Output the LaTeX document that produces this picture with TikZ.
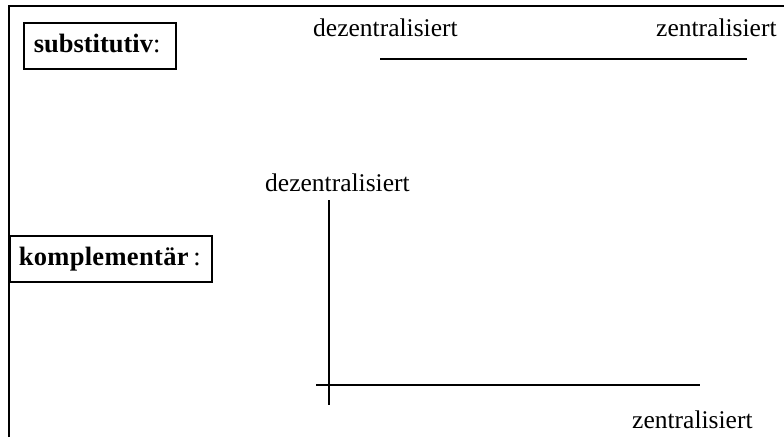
\documentclass[tikz,border=0pt]{standalone}
\usepackage{fontspec}
\setmainfont{Liberation Serif}
\begin{document}
\begin{tikzpicture}[x=1pt,y=-1pt,
  lbl/.style={font=\fontsize{25.5}{30}\selectfont, inner sep=0pt, anchor=base west},
  kindbox/.style={draw, line width=1.5pt, font=\fontsize{26.5}{30}\selectfont,
    minimum height=46pt, inner ysep=0pt, inner xsep=0pt, anchor=north west,
    text height=19pt, text depth=6pt, align=left},
  axis/.style={line width=1.5pt}]
  \useasboundingbox (0,0) rectangle (784,437);
  % outer frame: top and left edges only
  \draw[line width=2.2pt] (9,437) -- (9,6) -- (784,6);
  % category labels
  \node[kindbox, minimum width=152pt, text width=152pt] (subst) at (23,22)
    {\hspace*{10pt}\textbf{substitutiv}:};
  \node[kindbox, minimum width=202pt, text width=202pt] (kompl) at (9,235)
    {\hspace*{9pt}{\addfontfeatures{LetterSpace=1.2}\textbf{komplementär}}\,:};
  % substitutive case: one scale
  \node[lbl] (dz1) at (313,36) {dezentralisiert};
  \node[lbl] (z1) at (656,36) {zentralisiert};
  \coordinate (s0) at (380,59);
  \coordinate (s1) at (747,59);
  \draw[axis] (s0) -- (s1);
  % complementary case: two axes
  \node[lbl] (dz2) at (265,191) {dezentralisiert};
  \node[lbl] (z2) at (632,428) {zentralisiert};
  \coordinate (vtop) at (329,200);
  \coordinate (vbot) at (329,405);
  \coordinate (hl) at (316,385);
  \coordinate (hr) at (700,385);
  \draw[axis] (vtop) -- (vbot);
  \draw[axis] (hl) -- (hr);
\end{tikzpicture}
\end{document}
